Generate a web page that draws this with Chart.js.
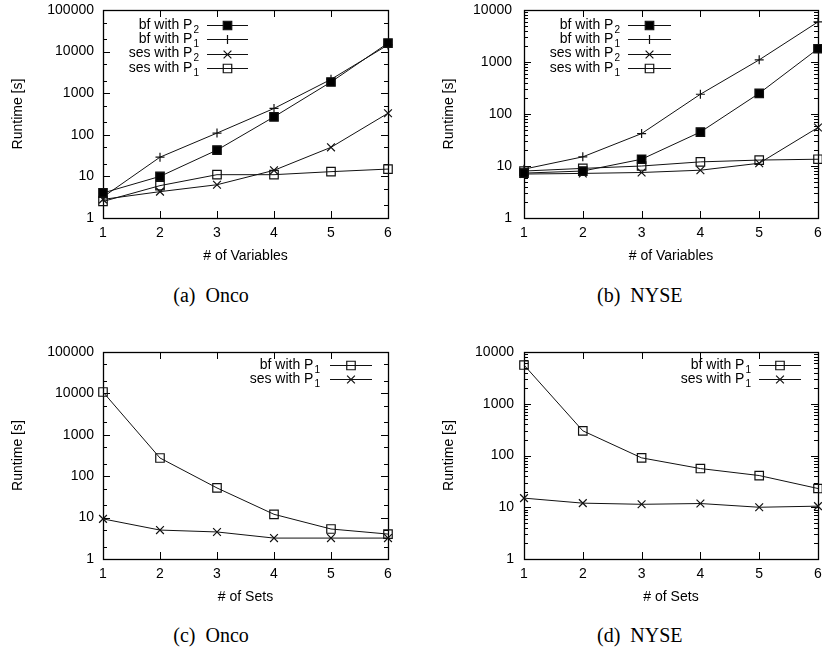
<!DOCTYPE html>
<html>
<head>
<meta charset="utf-8">
<script src="https://cdn.jsdelivr.net/npm/chart.js@4/dist/chart.umd.min.js"></script>
<style>
  html, body { margin: 0; padding: 0; background: #fff; overflow: hidden; }
  body { width: 822px; height: 649px; position: relative; }
  .panel { position: absolute; }
  .caption {
    position: absolute; width: 410px; text-align: center; white-space: pre;
    font-family: "Liberation Serif", "DejaVu Serif", serif; font-size: 20px; line-height: 20px; color: #000;
  }
</style>
</head>
<body>
<div class="panel" style="left:0;top:0"><canvas id="chartA" width="411" height="270"></canvas></div>
<div class="panel" style="left:411px;top:0"><canvas id="chartB" width="411" height="270"></canvas></div>
<div class="panel" style="left:0;top:342px"><canvas id="chartC" width="411" height="269"></canvas></div>
<div class="panel" style="left:411px;top:342px"><canvas id="chartD" width="411" height="269"></canvas></div>
<div class="caption" style="left:6px;top:285px">(a)  Onco</div>
<div class="caption" style="left:436px;top:285px;width:386px;text-align:left;padding-left:161px;box-sizing:border-box">(b)  NYSE</div>
<div class="caption" style="left:6px;top:625px">(c)  Onco</div>
<div class="caption" style="left:436px;top:625px;width:386px;text-align:left;padding-left:161px;box-sizing:border-box">(d)  NYSE</div>

<script>
// x values shared by every panel
const xValues = [1, 2, 3, 4, 5, 6];

// (a) Onco, # of Variables
const oncoVarBfP2 = [4, 10, 43, 270, 1860, 16000];
const oncoVarBfP1 = [3.2, 29, 110, 430, 2150, 14500];
const oncoVarSesP2 = [2.8, 4.3, 6.3, 14, 50, 330];
const oncoVarSesP1 = [2.5, 6, 11, 11, 13, 15];

// (b) NYSE, # of Variables
const nyseVarBfP2 = [7.3, 8, 13.5, 45, 250, 1800];
const nyseVarBfP1 = [8.7, 15, 42, 240, 1100, 5900];
const nyseVarSesP2 = [7, 7.2, 7.5, 8.3, 11.3, 55];
const nyseVarSesP1 = [8, 9, 10, 12, 13, 13.5];

// (c) Onco, # of Sets
const oncoSetBfP1 = [10800, 275, 52, 12, 5.3, 4];
const oncoSetSesP1 = [9.3, 5, 4.5, 3.2, 3.2, 3.2];

// (d) NYSE, # of Sets
const nyseSetBfP1 = [5600, 300, 90, 56, 41, 23];
const nyseSetSesP1 = [15, 12, 11.4, 11.8, 10, 10.5];

const yTickValuesBig = [1, 10, 100, 1000, 10000, 100000];
const yTickValuesSmall = [1, 10, 100, 1000, 10000];

Chart.defaults.font.family = '"Liberation Sans", Arial, sans-serif';
Chart.defaults.font.size = 14;
Chart.defaults.color = '#000';

// marker looks, gnuplot style
const mk = {
  filledSquare: { pointStyle: 'rect', pointRadius: 6, pointBackgroundColor: '#000' },
  plus: { pointStyle: 'cross', pointRadius: 4.5, pointBackgroundColor: '#000' },
  times: { pointStyle: 'crossRot', pointRadius: 5.5, pointBackgroundColor: '#000' },
  openSquare: { pointStyle: 'rect', pointRadius: 6, pointBackgroundColor: 'rgba(0,0,0,0)' }
};

function series(label, values, look) {
  return Object.assign({
    label: label,
    data: values.map((v, i) => ({ x: xValues[i], y: v })),
    borderColor: '#111',
    borderWidth: 1,
    pointBorderColor: '#111',
    pointBorderWidth: 1.2,
    tension: 0,
    clip: false
  }, look);
}

function drawMarker(ctx, ds, x, y) {
  const r = ds.pointRadius;
  ctx.beginPath();
  if (ds.pointStyle === 'rect') {
    const s = Math.SQRT1_2 * r;
    ctx.rect(x - s, y - s, 2 * s, 2 * s);
    if (ds.pointBackgroundColor === '#000') ctx.fill();
    ctx.stroke();
  } else if (ds.pointStyle === 'cross') {
    ctx.moveTo(x - r, y); ctx.lineTo(x + r, y);
    ctx.moveTo(x, y - r); ctx.lineTo(x, y + r);
    ctx.stroke();
  } else {
    const s = Math.SQRT1_2 * r;
    ctx.moveTo(x - s, y - s); ctx.lineTo(x + s, y + s);
    ctx.moveTo(x - s, y + s); ctx.lineTo(x + s, y - s);
    ctx.stroke();
  }
}

// border + inward ticks on all sides
const gpFrame = {
  id: 'gpFrame',
  beforeDatasetsDraw(chart, args, opts) {
    const { ctx, chartArea: { left, right, top, bottom }, scales: { x, y } } = chart;
    const px = v => Math.round(v) + 0.5;
    ctx.save();
    ctx.strokeStyle = '#000';
    ctx.lineWidth = 1;
    ctx.beginPath();
    opts.decades.forEach(d => {
      const yy = px(y.getPixelForValue(d));
      ctx.moveTo(left, yy); ctx.lineTo(left + 7, yy);
      ctx.moveTo(right, yy); ctx.lineTo(right - 7, yy);
      opts.minors.forEach(m => {
        if (d * m >= y.max) return;
        const ym = px(y.getPixelForValue(d * m));
        ctx.moveTo(left, ym); ctx.lineTo(left + 4, ym);
        ctx.moveTo(right, ym); ctx.lineTo(right - 4, ym);
      });
    });
    xValues.forEach(v => {
      const xx = px(x.getPixelForValue(v));
      ctx.moveTo(xx, bottom); ctx.lineTo(xx, bottom - 7);
      ctx.moveTo(xx, top); ctx.lineTo(xx, top + 7);
    });
    ctx.stroke();
    ctx.lineWidth = 1.3;
    ctx.strokeRect(px(left), px(top), Math.round(right - left), Math.round(bottom - top));
    ctx.restore();
  }
};

// gnuplot-like key with subscripts, labels look like "bf with P_2"
const gpKey = {
  id: 'gpKey',
  afterDatasetsDraw(chart, args, opts) {
    const ctx = chart.ctx;
    ctx.save();
    chart.data.datasets.forEach((ds, i) => {
      const y = opts.y + i * opts.dy;
      const [main, sub] = ds.label.split('_');
      ctx.font = '14px "Liberation Sans", Arial, sans-serif';
      const wMain = ctx.measureText(main).width;
      ctx.font = '10px "Liberation Sans", Arial, sans-serif';
      const wSub = ctx.measureText(sub).width;
      ctx.fillStyle = '#000';
      ctx.textBaseline = 'middle';
      ctx.textAlign = 'left';
      ctx.font = '14px "Liberation Sans", Arial, sans-serif';
      ctx.fillText(main, opts.x - wMain - wSub - 1, y);
      ctx.font = '10px "Liberation Sans", Arial, sans-serif';
      ctx.fillText(sub, opts.x - wSub, y + 5);
      ctx.strokeStyle = '#111';
      ctx.lineWidth = 1;
      ctx.beginPath();
      ctx.moveTo(opts.lineFrom, Math.round(y) + 0.5);
      ctx.lineTo(opts.lineTo, Math.round(y) + 0.5);
      ctx.stroke();
      ctx.fillStyle = '#000';
      ctx.lineWidth = 1.2;
      drawMarker(ctx, ds, (opts.lineFrom + opts.lineTo) / 2, Math.round(y) + 0.5);
    });
    ctx.restore();
  }
};

function makeChart(id, datasets, cfg) {
  return new Chart(document.getElementById(id), {
    type: 'line',
    data: { datasets: datasets },
    plugins: [gpFrame, gpKey],
    options: {
      responsive: false,
      animation: false,
      devicePixelRatio: 1,
      events: [],
      layout: { autoPadding: false, padding: { top: 10, right: cfg.padRight, left: 0, bottom: 0 } },
      plugins: {
        legend: { display: false },
        tooltip: { enabled: false },
        gpFrame: { decades: cfg.yTicks, minors: cfg.minors },
        gpKey: cfg.key
      },
      scales: {
        x: {
          type: 'linear', min: 1, max: 6,
          grid: { display: false, drawTicks: false },
          border: { display: false },
          ticks: { stepSize: 1, padding: 7, maxRotation: 0, autoSkip: false },
          title: { display: true, text: cfg.xTitle, padding: { top: 0, bottom: 5 } },
          afterFit(s) { s.height = 52; s.paddingLeft = 0; s.paddingRight = 0; }
        },
        y: {
          type: 'logarithmic', min: 1, max: cfg.yTicks[cfg.yTicks.length - 1],
          grid: { display: false, drawTicks: false },
          border: { display: false },
          afterBuildTicks(s) { s.ticks = cfg.yTicks.map(v => ({ value: v })); },
          ticks: { autoSkip: false, padding: cfg.tickPad, callback: v => String(v) },
          title: { display: true, text: 'Runtime [s]', padding: { top: cfg.titlePad, bottom: 0 } },
          afterFit(s) { s.width = cfg.axisWidth; s.paddingTop = 0; s.paddingBottom = 0; }
        }
      }
    }
  });
}

makeChart('chartA', [
  series('bf with P_2', oncoVarBfP2, mk.filledSquare),
  series('bf with P_1', oncoVarBfP1, mk.plus),
  series('ses with P_2', oncoVarSesP2, mk.times),
  series('ses with P_1', oncoVarSesP1, mk.openSquare)
], {
  xTitle: '# of Variables', yTicks: yTickValuesBig, minors: [2, 5],
  axisWidth: 103, padRight: 23, tickPad: 9, titlePad: 10,
  key: { x: 199, y: 25, dy: 14.3, lineFrom: 207, lineTo: 248 }
});

makeChart('chartB', [
  series('bf with P_2', nyseVarBfP2, mk.filledSquare),
  series('bf with P_1', nyseVarBfP1, mk.plus),
  series('ses with P_2', nyseVarSesP2, mk.times),
  series('ses with P_1', nyseVarSesP1, mk.openSquare)
], {
  xTitle: '# of Variables', yTicks: yTickValuesSmall, minors: [2, 3, 4, 5, 6, 7, 8, 9],
  axisWidth: 113, padRight: 4, tickPad: 12, titlePad: 30,
  key: { x: 209, y: 25, dy: 14.3, lineFrom: 217, lineTo: 260 }
});

makeChart('chartC', [
  series('bf with P_1', oncoSetBfP1, mk.openSquare),
  series('ses with P_1', oncoSetSesP1, mk.times)
], {
  xTitle: '# of Sets', yTicks: yTickValuesBig, minors: [2, 5],
  axisWidth: 103, padRight: 23, tickPad: 9, titlePad: 10,
  key: { x: 320, y: 23, dy: 14.3, lineFrom: 330, lineTo: 372 }
});

makeChart('chartD', [
  series('bf with P_1', nyseSetBfP1, mk.openSquare),
  series('ses with P_1', nyseSetSesP1, mk.times)
], {
  xTitle: '# of Sets', yTicks: yTickValuesSmall, minors: [2, 3, 4, 5, 6, 7, 8, 9],
  axisWidth: 113, padRight: 4, tickPad: 10, titlePad: 30,
  key: { x: 340, y: 23, dy: 14.3, lineFrom: 348, lineTo: 390 }
});
</script>
</body>
</html>
